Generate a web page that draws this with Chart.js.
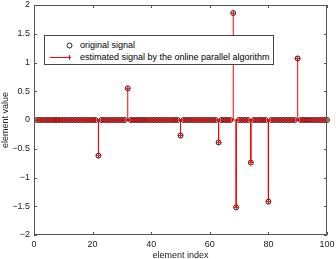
<!DOCTYPE html>
<html><head><meta charset="utf-8">
<script src="https://cdn.jsdelivr.net/npm/chart.js@4"></script>
<style>
html,body{margin:0;padding:0;background:#fff;}
#wrap{position:relative;width:336px;height:259px;}
#legend{position:absolute;left:44px;top:35px;width:228px;height:28px;border:1px solid #444;background:#fff;font:9px "Liberation Sans",Arial,sans-serif;color:#000;}
#legend .t{position:absolute;left:35px;white-space:nowrap;line-height:10px;}
#legend svg{position:absolute;left:0;top:0;}
</style></head>
<body>
<div id="wrap">
<canvas id="c" width="336" height="259"></canvas>
<div id="legend">
<svg width="228" height="28">
<circle cx="24.5" cy="9.5" r="2.5" fill="none" stroke="#222" stroke-width="1"/>
<line x1="5" y1="21.5" x2="26" y2="21.5" stroke="#ff0000" stroke-width="1"/>
<line x1="24.5" y1="19" x2="24.5" y2="24" stroke="#ff0000" stroke-width="1"/>
</svg>
<div class="t" style="top:4px">original signal</div>
<div class="t" style="top:16px">estimated signal by the online parallel algorithm</div>
</div>
</div>
<script>
// element indices 1..100
const elementIndex = Array.from({length:100},(_,i)=>i+1);
// nonzero entries
const spikeIndex = [22, 32, 50, 63, 68, 69, 74, 80, 90];
const originalSpikes = [-0.62, 0.55, -0.27, -0.39, 1.86, -1.52, -0.74, -1.42, 1.07];
const estimatedSpikes = [-0.62, 0.55, -0.27, -0.39, 1.86, -1.52, -0.74, -1.42, 1.07];
const xTicks = [0, 20, 40, 60, 80, 100];
const yTicks = [-2, -1.5, -1, -0.5, 0, 0.5, 1, 1.5, 2];

function fullSignal(vals){
  return elementIndex.map(i=>{const k=spikeIndex.indexOf(i);return {x:i,y:k>=0?vals[k]:0};});
}
const original = fullSignal(originalSpikes);
const estimated = fullSignal(estimatedSpikes);
const stems = [];
estimated.forEach(p=>{ if(p.y!==0){ stems.push({x:p.x,y:0},{x:p.x,y:p.y},{x:p.x,y:null}); } });

const FONT = {family:'"Liberation Sans", Arial, sans-serif', size:9};
const AX = '#555';

const frame = {
  id:'frame',
  afterDraw(chart){
    const {ctx, chartArea:a, scales:{x,y}} = chart;
    ctx.save();
    ctx.strokeStyle = AX; ctx.lineWidth = 1;
    ctx.beginPath();
    ctx.rect(a.left+0.5, a.top+0.5, a.right-a.left-1, a.bottom-a.top-1);
    xTicks.forEach(v=>{ const px=Math.round(x.getPixelForValue(v))+0.5;
      ctx.moveTo(px,a.bottom); ctx.lineTo(px,a.bottom-3);
      ctx.moveTo(px,a.top); ctx.lineTo(px,a.top+3); });
    yTicks.forEach(v=>{ const py=Math.round(y.getPixelForValue(v))+0.5;
      ctx.moveTo(a.left,py); ctx.lineTo(a.left+3,py);
      ctx.moveTo(a.right,py); ctx.lineTo(a.right-3,py); });
    ctx.stroke();
    ctx.restore();
  }
};

new Chart(document.getElementById('c'), {
  type:'scatter',
  data:{datasets:[
    {type:'line', label:'baseline', data:[{x:0,y:0},{x:100,y:0}], borderColor:'#ff0000', borderWidth:1, pointRadius:0, order:4},
    {label:'original signal', data:original, showLine:false, pointStyle:'circle', pointRadius:2.5, borderColor:'#222', backgroundColor:'rgba(0,0,0,0)', borderWidth:1, clip:false, order:3},
    {type:'line', label:'stems', data:stems, borderColor:'#ff0000', borderWidth:1, pointRadius:0, spanGaps:false, order:2},
    {label:'estimated signal by the online parallel algorithm', data:estimated, showLine:false, pointStyle:'cross', pointRadius:2.5, borderColor:'#ff0000', borderWidth:1, clip:false, order:1}
  ]},
  options:{
    responsive:false, animation:false, devicePixelRatio:1,
    layout:{padding:{top:3,right:9,left:0,bottom:0}},
    plugins:{legend:{display:false}, tooltip:{enabled:false}},
    scales:{
      x:{type:'linear', min:0, max:100,
        afterBuildTicks(s){ s.ticks = xTicks.map(v=>({value:v})); },
        afterFit(s){ s.height=24; s.paddingLeft=0; s.paddingRight=0; },
        grid:{display:false, drawTicks:false}, border:{display:false},
        ticks:{font:FONT, color:'#222', padding:4, maxRotation:0, autoSkip:false},
        title:{display:true, text:'element index', font:FONT, color:'#222', padding:{top:0,bottom:-2}}
      },
      y:{type:'linear', min:-2, max:2,
        afterBuildTicks(s){ s.ticks = yTicks.map(v=>({value:v})); },
        afterFit(s){ s.width=34; s.paddingTop=0; s.paddingBottom=0; },
        grid:{display:false, drawTicks:false}, border:{display:false},
        ticks:{font:FONT, color:'#222', padding:4, autoSkip:false, callback:v=>String(v).replace('-','\u2212')},
        title:{display:true, text:'element value', font:FONT, color:'#222', padding:{top:0,bottom:0}}
      }
    }
  },
  plugins:[frame]
});
</script>
</body></html>
